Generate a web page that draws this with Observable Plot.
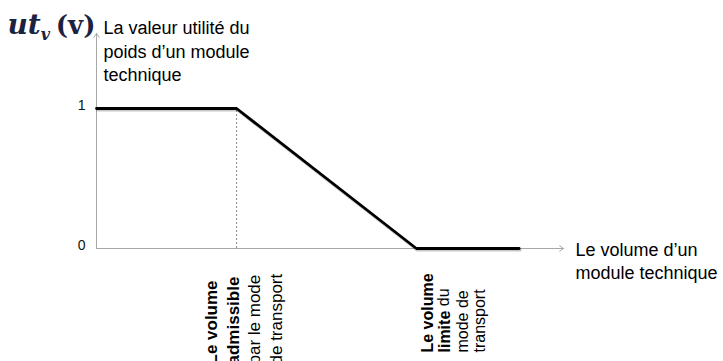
<!DOCTYPE html>
<html>
<head>
<meta charset="utf-8">
<script src="https://cdn.jsdelivr.net/npm/d3@7"></script>
<script src="https://cdn.jsdelivr.net/npm/@observablehq/plot@0.6"></script>
<style>
  html, body { margin: 0; padding: 0; background: #fff; overflow: hidden; }
</style>
</head>
<body>
<div id="chart"></div>
<script>
// ---- data ----
const knotX = [0, 30, 68.5, 90.5];        // volume (arbitrary units)
const knotUtility = [1, 1, 0, 0];          // utility value
const yTicks = [0, 1];
const xAxisMax = 100;
const yAxisMax = 1.536;
const admissibleX = 30;
const limitX = 68.5;

const utilityPoints = knotX.map((x, i) => ({x, y: knotUtility[i]}));

// text measuring helper for chaining mixed-style text
const ctx = document.createElement("canvas").getContext("2d");
function measure(text, font) { ctx.font = font; return ctx.measureText(text).width; }

const sans = "'Liberation Sans', Arial, sans-serif";
const serif = "'DejaVu Serif', serif";

const utWidth = measure("ut", `italic bold 28px 'DejaVu Serif'`);
const limiteWidth = measure("limite", `bold 16px 'Liberation Sans'`) + measure(" ", `16px 'Liberation Sans'`);

const axisColor = "#a8a8a8";

const chart = Plot.plot({
  width: 723,
  height: 361,
  margin: 0,
  x: {domain: [0, xAxisMax], range: [96, 563], axis: null},
  y: {domain: [0, 1], range: [248, 108], axis: null},
  style: {fontFamily: sans, background: "#fff", overflow: "hidden"},
  marks: [
    // axes with arrows
    Plot.arrow([{x1: 0, y1: 0, x2: xAxisMax, y2: 0}], {x1: "x1", y1: "y1", x2: "x2", y2: "y2", stroke: axisColor, strokeWidth: 1, headLength: 7, headAngle: 70}),
    Plot.arrow([{x1: 0, y1: 0, x2: 0, y2: yAxisMax}], {x1: "x1", y1: "y1", x2: "x2", y2: "y2", stroke: axisColor, strokeWidth: 1, headLength: 7, headAngle: 70}),
    // dashed guide at admissible volume
    Plot.ruleX([admissibleX], {y1: 0, y2: 1, stroke: "#888", strokeWidth: 1, strokeDasharray: "2,2"}),
    // shadow + utility curve
    Plot.line(utilityPoints, {x: "x", y: "y", stroke: "#000", strokeOpacity: 0.22, strokeWidth: 3, dx: 1, dy: 1.5}),
    Plot.line(utilityPoints, {x: "x", y: "y", stroke: "#000", strokeWidth: 2.8}),
    // y tick labels
    Plot.text(yTicks, {x: () => 0, y: d => d, text: d => String(d), textAnchor: "end", dx: -11, dy: -3, fontSize: 14, fill: "#111"}),
    // formula ut_v(v)
    Plot.text(["ut"], {frameAnchor: "top-left", dx: 7, dy: 33, text: d => d, textAnchor: "start", lineAnchor: "bottom", fontFamily: serif, fontStyle: "italic", fontWeight: "bold", fontSize: 28, fill: "#1c2340"}),
    Plot.text(["v"], {frameAnchor: "top-left", dx: 7 + utWidth, dy: 39, text: d => d, textAnchor: "start", lineAnchor: "bottom", fontFamily: serif, fontStyle: "italic", fontWeight: "bold", fontSize: 16, fill: "#1c2340"}),
    Plot.text(["(v)"], {x: () => 0, frameAnchor: "top", dx: -1, dy: 33, text: d => d, textAnchor: "end", lineAnchor: "bottom", fontFamily: serif, fontWeight: "bold", fontSize: 26, fill: "#1c2340"}),
    // y-axis title
    Plot.text(["La valeur utilité du\npoids d’un module\ntechnique"], {x: () => 0, frameAnchor: "top", dx: 7, dy: 17, text: d => d, textAnchor: "start", lineAnchor: "top", lineHeight: 1.3, fontSize: 18, fill: "#000"}),
    // x-axis title
    Plot.text(["Le volume d’un\nmodule technique"], {x: () => xAxisMax, y: () => 0, dx: 12, dy: -9.5, text: d => d, textAnchor: "start", lineAnchor: "top", lineHeight: 1.3, fontSize: 18, fill: "#000"}),
    // admissible label (rotated)
    Plot.text(["Le volume\nadmissible"], {x: () => admissibleX, frameAnchor: "bottom", dx: -35, dy: 3, text: d => d, rotate: -90, textAnchor: "start", lineAnchor: "top", lineHeight: 1.28, fontSize: 17, fontWeight: "bold", fill: "#000"}),
    Plot.text(["par le mode\nde transport"], {x: () => admissibleX, frameAnchor: "bottom", dx: 8.4, dy: 3, text: d => d, rotate: -90, textAnchor: "start", lineAnchor: "top", lineHeight: 1.28, fontSize: 17, fill: "#000"}),
    // limit label (rotated)
    Plot.text(["Le volume\nlimite"], {x: () => limitX, frameAnchor: "bottom", dx: 4, dy: -9, text: d => d, rotate: -90, textAnchor: "start", lineAnchor: "top", lineHeight: 1.09, fontSize: 16, fontWeight: "bold", fill: "#000"}),
    Plot.text(["du"], {x: () => limitX, frameAnchor: "bottom", dx: 4 + 17.5, dy: -9 - limiteWidth, text: d => d, rotate: -90, textAnchor: "start", lineAnchor: "top", fontSize: 16, fill: "#000"}),
    Plot.text(["mode de\ntransport"], {x: () => limitX, frameAnchor: "bottom", dx: 39, dy: -9, text: d => d, rotate: -90, textAnchor: "start", lineAnchor: "top", lineHeight: 1.09, fontSize: 16, fill: "#000"})
  ]
});
document.getElementById("chart").append(chart);
</script>
</body>
</html>
